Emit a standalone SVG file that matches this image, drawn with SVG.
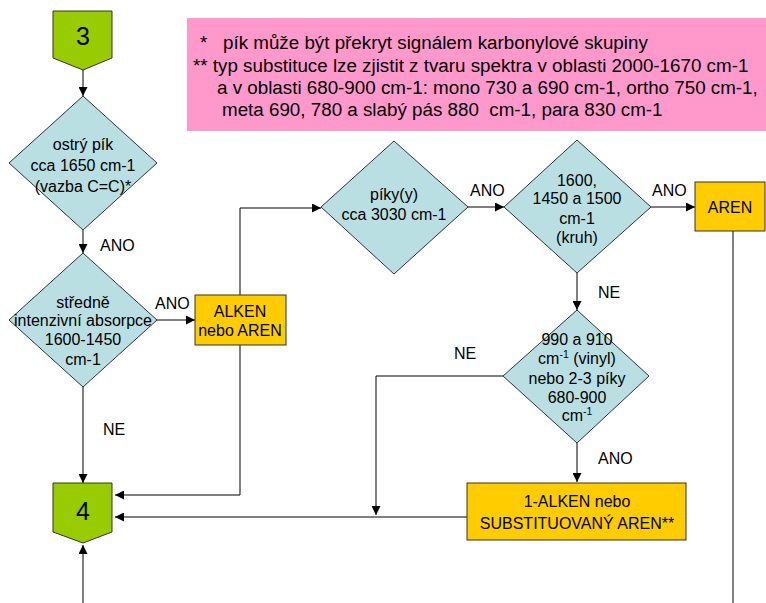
<svg xmlns="http://www.w3.org/2000/svg" width="766" height="603" viewBox="0 0 766 603">
  <style>
    text { font-family: "Liberation Sans", Arial, sans-serif; fill: #000; }
    .dia { fill: #B9DFE3; stroke: #333; stroke-width: 1; }
    .res { fill: #FFCC00; stroke: #333; stroke-width: 1; }
    .conn { fill: #99CC00; stroke: #333; stroke-width: 1; }
    .line { fill: none; stroke: #000; stroke-width: 1; }
    .dt { font-size: 16px; text-anchor: middle; }
    .bt { font-size: 16px; text-anchor: middle; }
    .lbl { font-size: 16px; }
    .note { font-size: 18.8px; }
  </style>
  <defs>
    <marker id="arrow" viewBox="0 0 10 10" refX="10" refY="5" markerWidth="9" markerHeight="9" markerUnits="userSpaceOnUse" orient="auto">
      <path d="M0,0 L10,5 L0,10 z" fill="#000"/>
    </marker>
  </defs>

  <!-- footnote panel -->
  <g id="notes">
    <rect x="187" y="18" width="579" height="113" fill="#FF99CC"/>
    <text class="note" x="200" y="49" xml:space="preserve">*   pík může být překryt signálem karbonylové skupiny</text>
    <text class="note" x="193" y="72">** typ substituce lze zjistit z tvaru spektra v oblasti 2000-1670 cm-1</text>
    <text class="note" x="217" y="94">a v oblasti 680-900 cm-1: mono 730 a 690 cm-1, ortho 750 cm-1,</text>
    <text class="note" x="222" y="116" xml:space="preserve">meta 690, 780 a slabý pás 880  cm-1, para 830 cm-1</text>
  </g>

  <!-- connectors -->
  <g id="connectors">
    <line class="line" x1="83" y1="70" x2="83" y2="96" marker-end="url(#arrow)"/>
    <line class="line" x1="83" y1="230" x2="83" y2="253" marker-end="url(#arrow)"/>
    <line class="line" x1="157" y1="320" x2="195" y2="320" marker-end="url(#arrow)"/>
    <line class="line" x1="83" y1="387" x2="83" y2="483" marker-end="url(#arrow)"/>
    <polyline class="line" points="240,295 240,208 321,208" marker-end="url(#arrow)"/>
    <polyline class="line" points="240,345 240,495 115,495" marker-end="url(#arrow)"/>
    <line class="line" x1="468" y1="207" x2="504" y2="207" marker-end="url(#arrow)"/>
    <line class="line" x1="651" y1="207" x2="695" y2="207" marker-end="url(#arrow)"/>
    <line class="line" x1="577" y1="273" x2="577" y2="310" marker-end="url(#arrow)"/>
    <line class="line" x1="577" y1="443" x2="577" y2="482" marker-end="url(#arrow)"/>
    <polyline class="line" points="503,376 376,376 376,515" marker-end="url(#arrow)"/>
    <line class="line" x1="467" y1="517" x2="115" y2="517" marker-end="url(#arrow)"/>
    <line class="line" x1="733" y1="231" x2="733" y2="603"/>
    <line class="line" x1="83" y1="603" x2="83" y2="545" marker-end="url(#arrow)"/>
    <text class="lbl" x="100" y="251">ANO</text>
    <text class="lbl" x="155" y="309">ANO</text>
    <text class="lbl" x="103" y="435">NE</text>
    <text class="lbl" x="470" y="196">ANO</text>
    <text class="lbl" x="652" y="196">ANO</text>
    <text class="lbl" x="598" y="298">NE</text>
    <text class="lbl" x="454" y="359">NE</text>
    <text class="lbl" x="598" y="464">ANO</text>
  </g>

  <g id="start3">
    <polygon class="conn" points="53,11 112,11 112,58 83,70 53,58"/>
    <text x="83" y="45" font-size="25" text-anchor="middle">3</text>
  </g>

  <g id="q-cc">
    <polygon class="dia" points="83,96 157,163 83,230 9,163"/>
    <text class="dt" x="83" y="150">ostrý pík</text>
    <text class="dt" x="83" y="171">cca 1650 cm-1</text>
    <text class="dt" x="83" y="192">(vazba C=C)*</text>
  </g>

  <g id="q-abs">
    <polygon class="dia" points="83,253 157,320 83,387 9,320"/>
    <text class="dt" x="83" y="308">středně</text>
    <text class="dt" x="83" y="326">intenzivní absorpce</text>
    <text class="dt" x="83" y="345">1600-1450</text>
    <text class="dt" x="83" y="365">cm-1</text>
  </g>

  <g id="alken-aren">
    <rect class="res" x="195" y="295" width="91" height="50"/>
    <text class="bt" x="240" y="317">ALKEN</text>
    <text class="bt" x="240" y="336">nebo AREN</text>
  </g>

  <g id="q-3030">
    <polygon class="dia" points="394,141 468,207 394,274 321,207"/>
    <text class="dt" x="394" y="200">píky(y)</text>
    <text class="dt" x="394" y="220">cca 3030 cm-1</text>
  </g>

  <g id="q-ring">
    <polygon class="dia" points="577,140 651,207 577,273 504,207"/>
    <text class="dt" x="577" y="186">1600,</text>
    <text class="dt" x="577" y="204">1450 a 1500</text>
    <text class="dt" x="577" y="224">cm-1</text>
    <text class="dt" x="577" y="243">(kruh)</text>
  </g>

  <g id="aren">
    <rect class="res" x="695" y="182" width="70" height="49"/>
    <text class="bt" x="730" y="213">AREN</text>
  </g>

  <g id="q-vinyl">
    <polygon class="dia" points="577,310 649,376 577,443 503,376"/>
    <text class="dt" x="577" y="345">990 a 910</text>
    <text class="dt" x="577" y="364">cm<tspan font-size="10.5" dy="-6">-1</tspan><tspan dy="6"> (vinyl)</tspan></text>
    <text class="dt" x="577" y="384">nebo 2-3 píky</text>
    <text class="dt" x="577" y="403">680-900</text>
    <text class="dt" x="577" y="421">cm<tspan font-size="10.5" dy="-6">-1</tspan></text>
  </g>

  <g id="alken-substituted">
    <rect class="res" x="467" y="483" width="219" height="57"/>
    <text class="bt" x="577" y="507">1-ALKEN nebo</text>
    <text class="bt" x="577" y="529">SUBSTITUOVANÝ AREN**</text>
  </g>

  <g id="start4">
    <polygon class="conn" points="53,483 112,483 112,532 83,543 53,532"/>
    <text x="83" y="520" font-size="25" text-anchor="middle">4</text>
  </g>
</svg>
